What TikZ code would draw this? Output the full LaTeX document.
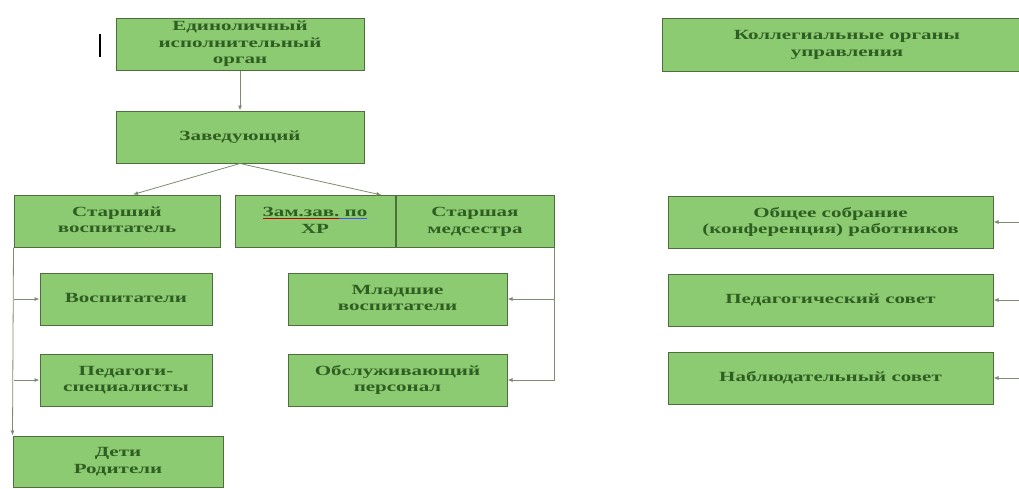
\documentclass[tikz,border=0pt]{standalone}
\usepackage{fontspec}
\setmainfont{Liberation Serif}
\usepackage{graphicx}
\usetikzlibrary{positioning, arrows.meta}

\definecolor{boxfill}{HTML}{8DCB72}
\definecolor{boxline}{HTML}{4E6E3E}
\definecolor{txt}{HTML}{2F5E22}
\definecolor{wire}{HTML}{7C8C70}

\newcommand{\lbl}[1]{\scalebox{1.5}[1]{\begin{tabular}{@{}c@{}}#1\end{tabular}}}
\newcommand{\underhue}[2]{\setbox0\hbox{#2}\rlap{\textcolor{#1}{\rule[-0.4ex]{\wd0}{0.9pt}}}\box0}

\begin{document}
\begin{tikzpicture}[x=1pt, y=-1pt,
    box/.style={rectangle, draw=boxline, line width=1pt, fill=boxfill, text=txt,
      minimum height=52pt, inner sep=0pt, font=\fontsize{14}{16.5}\selectfont\bfseries},
    arr/.style={draw=wire, line width=0.8pt, -{Latex[length=5pt, width=4pt]}}]
  \useasboundingbox (0,0) rectangle (1019,488);
  \clip (0,0) rectangle (1019,488);
  \coordinate (rim) at (1019,0);

  \node[box, minimum width=248pt] (organ) at (240,44) {\lbl{Единоличный\\исполнительный\\орган}};
  \node[box, minimum width=248pt, below=40pt of organ] (zav) {\lbl{Заведующий}};
  \node[box, minimum width=206pt] (star) at (117,221) {\lbl{Старший\\воспитатель}};
  \node[box, minimum width=160pt] (zam) at (315,221.5) {\lbl{\underhue{red!75!black}{Зам.зав.}\underhue{blue!70}{\ по}\\ХР}};
  \node[box, minimum width=158pt, right=0pt of zam] (med) {\lbl{Старшая\\медсестра}};
  \node[box, minimum width=172pt] (vosp) at (126,299) {\lbl{Воспитатели}};
  \node[box, minimum width=172pt, below=28pt of vosp] (ped) {\lbl{Педагоги-\\специалисты}};
  \node[box, minimum width=210pt, minimum height=51pt] (deti) at (118,461.5) {\lbl{Дети\\Родители}};
  \node[box, minimum width=219pt] (mlad) at (397.5,299) {\lbl{Младшие\\воспитатели}};
  \node[box, minimum width=219pt, below=28pt of mlad] (obsl) {\lbl{Обслуживающий\\персонал}};

  \node[box, minimum width=370pt, minimum height=53pt] (koll) at (847,44.5) {\lbl{Коллегиальные органы\\управления}};
  \node[box, minimum width=325pt] (obsh) at (830.5,222) {\lbl{Общее собрание\\(конференция) работников}};
  \node[box, minimum width=325pt, below=25pt of obsh] (pedsov) {\lbl{Педагогический совет}};
  \node[box, minimum width=325pt, below=25pt of pedsov] (nabl) {\lbl{Наблюдательный совет}};

  \draw[line width=1.6pt] (100,34) -- (100,57);

  \draw[arr] (organ) -- (zav);
  \draw[arr] (zav.south) -- ([xshift=16pt]star.north);
  \draw[arr] (zav.south) -- ([xshift=-14pt]zam.north east);
  \draw[arr] (star.south west) -- (deti.north west);
  \draw[arr] (star.south west |- vosp.west) -- (vosp.west);
  \draw[arr] (star.south west |- ped.west) -- (ped.west);
  \draw[arr] (med.south east) |- (obsl.east);
  \draw[arr] (med.south east |- mlad.east) -- (mlad.east);
  \foreach \n in {obsh, pedsov, nabl}
    \draw[arr] (\n.east -| rim) -- (\n.east);
\end{tikzpicture}
\end{document}
